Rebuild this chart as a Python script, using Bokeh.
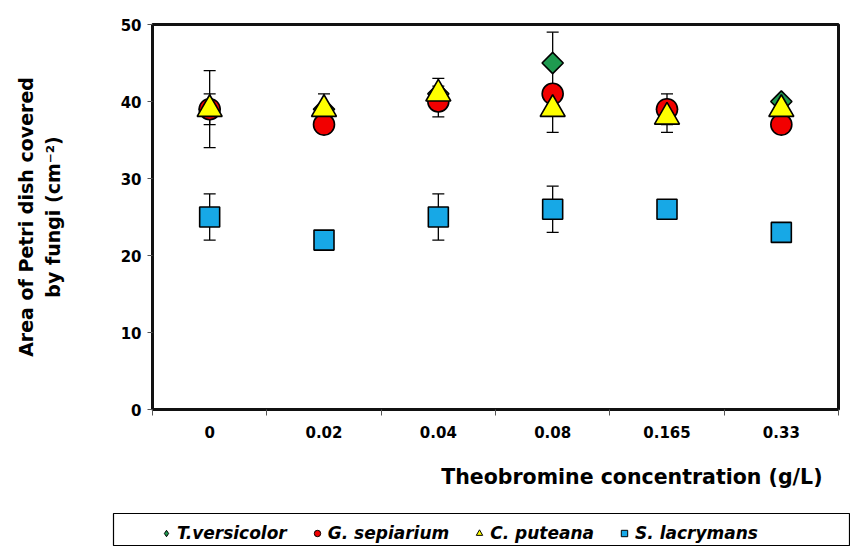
import math
from bokeh.plotting import figure
from bokeh.models import (FixedTicker, Whisker, ColumnDataSource, Range1d, Legend,
                          LegendItem, Title, TeeHead)
from bokeh.layouts import column, row
from bokeh.embed import file_html
from bokeh.resources import INLINE

# ---------------- data ----------------
concentrations = ["0", "0.02", "0.04", "0.08", "0.165", "0.33"]
series_names = ["T.versicolor", "G. sepiarium", "C. puteana", "S. lacrymans"]
t_versicolor = [39, 39, 41, 45, 39, 40]
t_versicolor_err = [5, 2, 2, 4, 0, 0]
g_sepiarium = [39, 37, 40, 41, 39, 37]
g_sepiarium_err = [2, 0, 2, 0, 2, 0]
c_puteana = [39, 39, 41, 39, 38, 39]
c_puteana_err = [0, 0, 0, 3, 2, 0]
s_lacrymans = [25, 22, 25, 26, 26, 23]
s_lacrymans_err = [3, 0, 3, 3, 0, 0]
y_ticks = [0, 10, 20, 30, 40, 50]
y_max = 50

FONT = "DejaVu Sans"

n = len(concentrations)
xs = list(range(n))

p = figure(width=844, height=512, output_backend="svg", toolbar_location=None,
           x_range=Range1d(-0.5, n - 0.5), y_range=Range1d(0, y_max),
           min_border_left=152, min_border_right=6, min_border_top=24,
           min_border_bottom=103)
p.grid.visible = False
p.outline_line_color = "#111111"
p.outline_line_width = 3
p.background_fill_color = "white"
p.border_fill_color = "white"

# axes
p.xaxis.ticker = FixedTicker(ticks=xs, minor_ticks=[x - 0.5 for x in range(n + 1)])
p.xaxis.major_label_overrides = {x: c for x, c in zip(xs, concentrations)}
p.xaxis.major_tick_in = 0
p.xaxis.major_tick_out = 0
p.xaxis.minor_tick_in = 0
p.xaxis.minor_tick_out = 6
p.xaxis.minor_tick_line_color = "#555555"
p.xaxis.major_label_standoff = 10
p.yaxis.ticker = FixedTicker(ticks=y_ticks)
p.yaxis.major_tick_in = 0
p.yaxis.major_tick_out = 5
p.yaxis.major_tick_line_color = "#555555"
p.yaxis.major_label_standoff = 6
for ax in (p.xaxis, p.yaxis):
    ax.axis_line_color = None
    ax.major_label_text_font = FONT
    ax.major_label_text_font_style = "bold"
    ax.major_label_text_font_size = "15px"
    ax.major_label_text_color = "black"

p.yaxis.axis_label = "Area of Petri dish covered\nby fungi (cm\u207b\u00b2)"
p.yaxis.axis_label_text_font = FONT
p.yaxis.axis_label_text_font_style = "bold"
p.yaxis.axis_label_text_font_size = "19px"
p.yaxis.axis_label_text_color = "black"
p.yaxis.axis_label_standoff = 54

xt = Title(text="Theobromine concentration (g/L)", align="right", offset=16,
           standoff=45, text_font=FONT, text_font_style="bold",
           text_font_size="20.5px", text_color="black")
p.add_layout(xt, "below")

# error bars
def add_err(vals, errs):
    bx = [x for x, e in zip(xs, errs) if e > 0]
    up = [v + e for v, e in zip(vals, errs) if e > 0]
    lo = [v - e for v, e in zip(vals, errs) if e > 0]
    src = ColumnDataSource(dict(x=bx, upper=up, lower=lo))
    w = Whisker(base="x", upper="upper", lower="lower", source=src,
                line_color="black", line_width=1.3, level="underlay",
                upper_head=TeeHead(size=12, line_color="black", line_width=1.3),
                lower_head=TeeHead(size=12, line_color="black", line_width=1.3))
    p.add_layout(w)

for vals, errs in [(t_versicolor, t_versicolor_err), (g_sepiarium, g_sepiarium_err),
                   (c_puteana, c_puteana_err), (s_lacrymans, s_lacrymans_err)]:
    add_err(vals, errs)

styles = [
    dict(marker="square", legend_marker="diamond", angle=math.pi / 4, size=15, fill_color="#1f9a50"),
    dict(marker="circle", legend_marker="circle", angle=0, size=21, fill_color="#f20000"),
    dict(marker="triangle", legend_marker="triangle", angle=0, size=25, fill_color="#ffff00"),
    dict(marker="square", legend_marker="square", angle=0, size=20, fill_color="#17a8e6"),
]
series_vals = [t_versicolor, g_sepiarium, c_puteana, s_lacrymans]

for vals, st in zip(series_vals, styles):
    p.scatter(x=xs, y=vals, marker=st["marker"], angle=st["angle"], size=st["size"],
              fill_color=st["fill_color"], line_color="black", line_width=1.6)

# ---------------- legend strip (box below the chart) ----------------
q = figure(width=850, height=34, output_backend="svg", toolbar_location=None,
           x_range=Range1d(-0.5, n - 0.5), y_range=Range1d(0, 1),
           x_axis_type=None, y_axis_type=None,
           min_border_left=113, min_border_right=1, min_border_top=1,
           min_border_bottom=0)
q.grid.visible = False
q.outline_line_color = "black"
q.outline_line_width = 1.2

items = []
for name, vals, st in zip(series_names, series_vals, styles):
    # same series drawn here only for its legend glyph; values lie outside this strip's range
    r = q.scatter(x=xs, y=vals, marker=st["legend_marker"],
                  fill_color=st["fill_color"], line_color="black", line_width=1)
    items.append(LegendItem(label=name, renderers=[r]))

leg = Legend(items=items, orientation="horizontal", location=(45, 3),
             glyph_width=16, glyph_height=16, label_standoff=3, spacing=22,
             padding=0, margin=0, border_line_color=None,
             background_fill_alpha=0,
             label_text_font=FONT, label_text_font_style="bold italic",
             label_text_font_size="17px", label_text_color="black",
             label_height=20)
q.add_layout(leg)

layout = column(p, row(q), spacing=0)
open("out.html", "w").write(file_html(layout, INLINE))
